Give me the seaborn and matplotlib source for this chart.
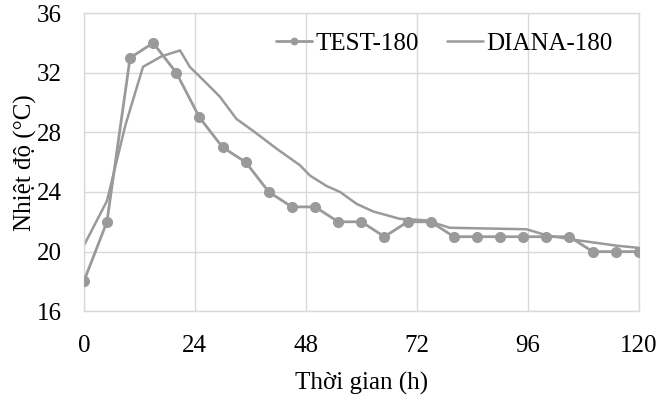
import matplotlib
matplotlib.use("Agg")
import matplotlib.pyplot as plt
import seaborn as sns
import pandas as pd

test_hours = [0, 5, 10, 15, 20, 25, 30, 35, 40, 45, 50, 55, 60, 65, 70, 75, 80, 85, 90, 95, 100, 105, 110, 115, 120]
test_temp = [18, 22, 33, 34, 32, 29, 27, 26, 24, 23, 23, 22, 22, 21, 22, 22, 21, 21, 21, 21, 21, 21, 20, 20, 20]

diana_hours = [0, 5, 9, 12.8, 16.8, 20.8, 22.9, 26.5, 29.4, 33, 36.6, 41.7, 46.7, 48.9, 52.5, 55.4, 59, 62.5, 68.3, 74, 79.1, 95.7, 100, 105.8, 115.2, 120]
diana_temp = [20.4, 23.4, 28.5, 32.4, 33.1, 33.5, 32.4, 31.3, 30.4, 28.9, 28.1, 26.9, 25.8, 25.1, 24.4, 24.0, 23.2, 22.7, 22.2, 22.1, 21.6, 21.5, 21.1, 20.8, 20.4, 20.25]

x_ticks = [0, 24, 48, 72, 96, 120]
y_ticks = [16, 20, 24, 28, 32, 36]

sns.set_style("white")
plt.rcParams['font.family'] = ['Liberation Serif', 'DejaVu Serif']

grey = '#9a9a9a'
grid = '#d9d9d9'

fig = plt.figure(figsize=(6.6, 3.98), dpi=100)
ax = fig.add_axes([0.127, 0.218, 0.841, 0.749])

df_test = pd.DataFrame({'h': test_hours, 't': test_temp})
df_diana = pd.DataFrame({'h': diana_hours, 't': diana_temp})

sns.lineplot(data=df_test, x='h', y='t', ax=ax, color=grey, lw=2.0, marker='o',
             markersize=8, markeredgewidth=0, label='TEST-180', zorder=3)
sns.lineplot(data=df_diana, x='h', y='t', ax=ax, color=grey, lw=1.8,
             label='DIANA-180', zorder=2)

ax.set_xlim(0, 120)
ax.set_ylim(16, 36)
ax.set_xticks(x_ticks)
ax.set_yticks(y_ticks)
ax.grid(True, color=grid, lw=1.0)
ax.set_axisbelow(True)
for s in ax.spines.values():
    s.set_color(grid)
    s.set_linewidth(1.0)
ax.tick_params(axis='x', labelsize=18, length=0, pad=17, colors='black')
ax.tick_params(axis='y', labelsize=18, length=0, pad=16, colors='black')
ax.set_xlabel('Thời gian (h)', fontsize=18, labelpad=11, color='black')
ax.set_ylabel('Nhiệt độ (°C)', fontsize=18, labelpad=0, color='black')

leg = ax.legend(loc='upper right', ncol=2, frameon=False, fontsize=18,
                handlelength=1.45, handletextpad=0.15, columnspacing=1.1,
                markerscale=0.7, borderaxespad=0.2,
                bbox_to_anchor=(0.98, 0.985))
for t in leg.get_texts():
    t.set_color('black')

fig.savefig('out.png', dpi=100)
